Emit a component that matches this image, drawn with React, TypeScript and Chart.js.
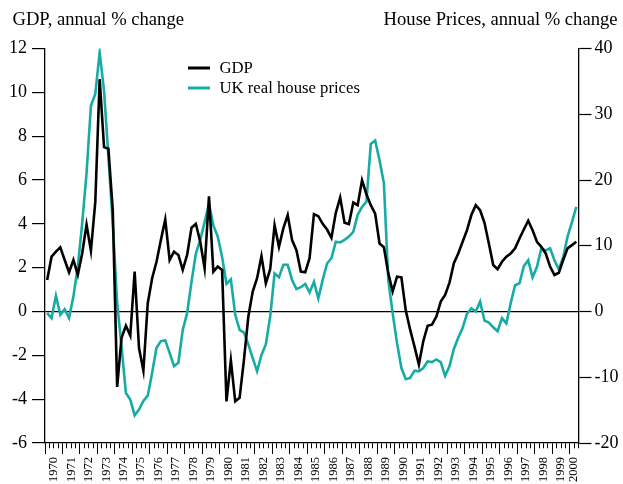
import React, { useEffect, useRef } from "react";
import { Chart, registerables } from "chart.js";

Chart.register(...registerables);

// ---- Data (quarterly, 1970 Q1 – 2000 Q2) ----
const START_YEAR = 1970;
const AXIS_END = 2000.5;

const gdp = [
  1.44, 2.5, 2.73, 2.93, 2.35, 1.79, 2.35, 1.67, 2.65, 3.97,
  2.77, 5.0, 10.6, 7.5, 7.43, 4.6, -3.44, -1.2, -0.65, -1.1,
  1.82, -1.67, -2.7, 0.38, 1.52, 2.27, 3.26, 4.2, 2.35, 2.73,
  2.58, 1.9, 2.58, 3.82, 4.0, 3.18, 1.97, 5.26, 1.82, 2.05,
  1.9, -4.1, -2.23, -4.1, -3.94, -2.2, -0.23, 0.91, 1.52, 2.53,
  1.29, 1.93, 3.94, 2.95, 3.79, 4.4, 3.26, 2.8, 1.82, 1.79,
  2.43, 4.44, 4.35, 4.0, 3.74, 3.36, 4.5, 5.2, 4.05, 3.99,
  4.97, 4.85, 5.99, 5.35, 4.85, 4.47, 3.1, 2.93, 1.75, 0.91,
  1.59, 1.56, 0.05, -0.83, -1.6, -2.42, -1.36, -0.65, -0.6, -0.23,
  0.45, 0.76, 1.32, 2.2, 2.65, 3.18, 3.71, 4.4, 4.85, 4.62,
  4.05, 3.1, 2.12, 1.93, 2.27, 2.5, 2.65, 2.88, 3.33, 3.74,
  4.14, 3.71, 3.18, 2.95, 2.65, 2.05, 1.67, 1.77, 2.35, 2.88,
  3.03, 3.18,
];

const housePrices = [
  -0.25, -1.0, 2.4, -0.5, 0.36, -1.0, 2.3, 6.8, 13.4, 21,
  31.3, 33.1, 39.4, 33.6, 23.5, 13.4, 1.3, -5.3, -12.4, -13.4,
  -15.8, -14.9, -13.6, -12.8, -9.3, -5.5, -4.5, -4.4, -6.3, -8.3,
  -7.8, -2.8, -0.25, 4.5, 8.8, 10.9, 13.6, 16.4, 13.1, 11.4,
  8.3, 4.2, 4.9, -0.5, -2.8, -3.2, -5.0, -7.1, -9.1, -6.6,
  -5.0, -0.75, 5.8, 5.2, 7.1, 7.1, 4.8, 3.4, 3.7, 4.2,
  2.9, 4.5, 2.0, 4.8, 7.3, 8.1, 10.6, 10.5, 10.9, 11.4,
  12.1, 14.7, 15.9, 16.7, 25.5, 26.0, 23.0, 19.5, 4.8, -0.25,
  -4.8, -8.6, -10.3, -10.1, -9.0, -9.1, -8.6, -7.6, -7.7, -7.3,
  -7.7, -9.8, -8.3, -5.7, -4.0, -2.5, -0.35, 0.5, 0, 1.5,
  -1.4, -1.7, -2.4, -3.0, -1.0, -1.8, 1.3, 4.0, 4.3, 6.9,
  7.8, 5.2, 6.8, 9.6, 9.3, 9.6, 7.8, 6.4, 8.3, 11.4,
  13.6, 15.9,
];

const yearLabels = [
  1970, 1971, 1972, 1973, 1974, 1975, 1976, 1977, 1978, 1979,
  1980, 1981, 1982, 1983, 1984, 1985, 1986, 1987, 1988, 1989,
  1990, 1991, 1992, 1993, 1994, 1995, 1996, 1997, 1998, 1999, 2000,
];

const gdpAxisTicks = [-6, -4, -2, 0, 2, 4, 6, 8, 10, 12];
const houseAxisTicks = [-20, -10, 0, 10, 20, 30, 40];

const seriesNames = ["GDP", "UK real house prices"];
const leftTitle = "GDP, annual % change";
const rightTitle = "House Prices, annual % change";

// ---- Styles ----
const SERIF = "'Liberation Serif', 'Times New Roman', Times, serif";
const BLACK = "#000000";
const TEAL = "#17aba5";

const quarterTime = (i: number) => START_YEAR + (i + 0.5) / 4;

const overlayPlugin = {
  id: "overlayText",
  afterDraw(chart: any) {
    const ctx = chart.ctx;
    ctx.save();
    ctx.fillStyle = BLACK;
    ctx.font = `18.6px ${SERIF}`;
    ctx.textBaseline = "alphabetic";
    ctx.textAlign = "left";
    ctx.fillText(leftTitle, 12.5, 25);
    ctx.textAlign = "right";
    ctx.fillText(rightTitle, 617.5, 25);

    // legend
    const items = [
      { name: seriesNames[0], color: BLACK, y: 68 },
      { name: seriesNames[1], color: TEAL, y: 88 },
    ];
    ctx.font = `16.7px ${SERIF}`;
    ctx.textAlign = "left";
    ctx.textBaseline = "middle";
    for (const it of items) {
      ctx.strokeStyle = it.color;
      ctx.lineWidth = 3;
      ctx.beginPath();
      ctx.moveTo(188, it.y);
      ctx.lineTo(210, it.y);
      ctx.stroke();
      ctx.fillStyle = BLACK;
      ctx.fillText(it.name, 219.5, it.y + 1);
    }
    ctx.restore();
  },
};

export default function App() {
  const canvasRef = useRef<HTMLCanvasElement | null>(null);

  useEffect(() => {
    document.body.style.margin = "0";
    const canvas = canvasRef.current;
    if (!canvas) return;

    const chart = new Chart(canvas, {
      type: "line",
      data: {
        datasets: [
          {
            label: seriesNames[0],
            data: gdp.map((y, i) => ({ x: quarterTime(i), y })),
            borderColor: BLACK,
            backgroundColor: BLACK,
            borderWidth: 2.6,
            pointRadius: 0,
            tension: 0,
            yAxisID: "y",
          },
          {
            label: seriesNames[1],
            data: housePrices.map((y, i) => ({ x: quarterTime(i), y })),
            borderColor: TEAL,
            backgroundColor: TEAL,
            borderWidth: 2.6,
            pointRadius: 0,
            tension: 0,
            yAxisID: "y2",
          },
        ],
      },
      options: {
        animation: false,
        responsive: false,
        devicePixelRatio: 1,
        layout: { padding: { top: 48.5, left: 0, right: 0, bottom: 0 } },
        plugins: {
          legend: { display: false },
          tooltip: { enabled: false },
        },
        scales: {
          x: {
            type: "linear",
            min: START_YEAR,
            max: AXIS_END,
            afterBuildTicks: (s: any) => {
              const t: any[] = [];
              for (let k = 0; START_YEAR + k / 4 <= AXIS_END + 1e-9; k++) {
                t.push({ value: START_YEAR + k / 4 });
              }
              s.ticks = t;
            },
            afterFit: (s: any) => {
              s.height = 41;
            },
            border: { display: true, color: BLACK, width: 1.3 },
            grid: {
              display: true,
              drawOnChartArea: false,
              drawTicks: true,
              tickLength: 11,
              tickColor: BLACK,
              tickWidth: 1,
              tickBorderDash: (c: any) =>
                c.tick && Number.isInteger(c.tick.value) ? [] : [5, 40],
            } as any,
            ticks: {
              autoSkip: false,
              minRotation: 90,
              maxRotation: 90,
              padding: 3,
              color: BLACK,
              font: { family: SERIF, size: 12.5 },
              callback: (v: any) => {
                const val = Number(v);
                const yr = Math.floor(val);
                const frac = val - yr;
                if (yr < 2000 && Math.abs(frac - 0.5) < 1e-6 && yearLabels.includes(yr)) {
                  return String(yr);
                }
                if (Math.abs(val - 2000.25) < 1e-6) return String(yearLabels[yearLabels.length - 1]);
                return "";
              },
            },
          },
          y: {
            position: "left",
            min: -6,
            max: 12,
            afterBuildTicks: (s: any) => {
              s.ticks = gdpAxisTicks.map((v) => ({ value: v }));
            },
            afterFit: (s: any) => {
              s.width = 45;
            },
            border: { display: true, color: BLACK, width: 1.3 },
            grid: {
              drawOnChartArea: true,
              color: (c: any) => (c.tick && c.tick.value === 0 ? BLACK : "rgba(0,0,0,0)"),
              lineWidth: 1.2,
              tickLength: 13,
              tickColor: BLACK,
              tickWidth: 1.2,
            },
            ticks: {
              padding: 5,
              color: BLACK,
              font: { family: SERIF, size: 18 },
            },
          },
          y2: {
            position: "right",
            min: -20,
            max: 40,
            afterBuildTicks: (s: any) => {
              s.ticks = houseAxisTicks.map((v) => ({ value: v }));
            },
            afterFit: (s: any) => {
              s.width = 44.5;
            },
            border: { display: true, color: BLACK, width: 1.3 },
            grid: {
              drawOnChartArea: false,
              tickLength: 13,
              tickColor: BLACK,
              tickWidth: 1.2,
            },
            ticks: {
              padding: 3,
              color: BLACK,
              font: { family: SERIF, size: 18 },
            },
          },
        },
      },
      plugins: [overlayPlugin],
    } as any);

    return () => {
      chart.destroy();
    };
  }, []);

  return (
    <div style={{ width: 623, height: 484, background: "#ffffff" }}>
      <canvas ref={canvasRef} width={623} height={484} />
    </div>
  );
}
